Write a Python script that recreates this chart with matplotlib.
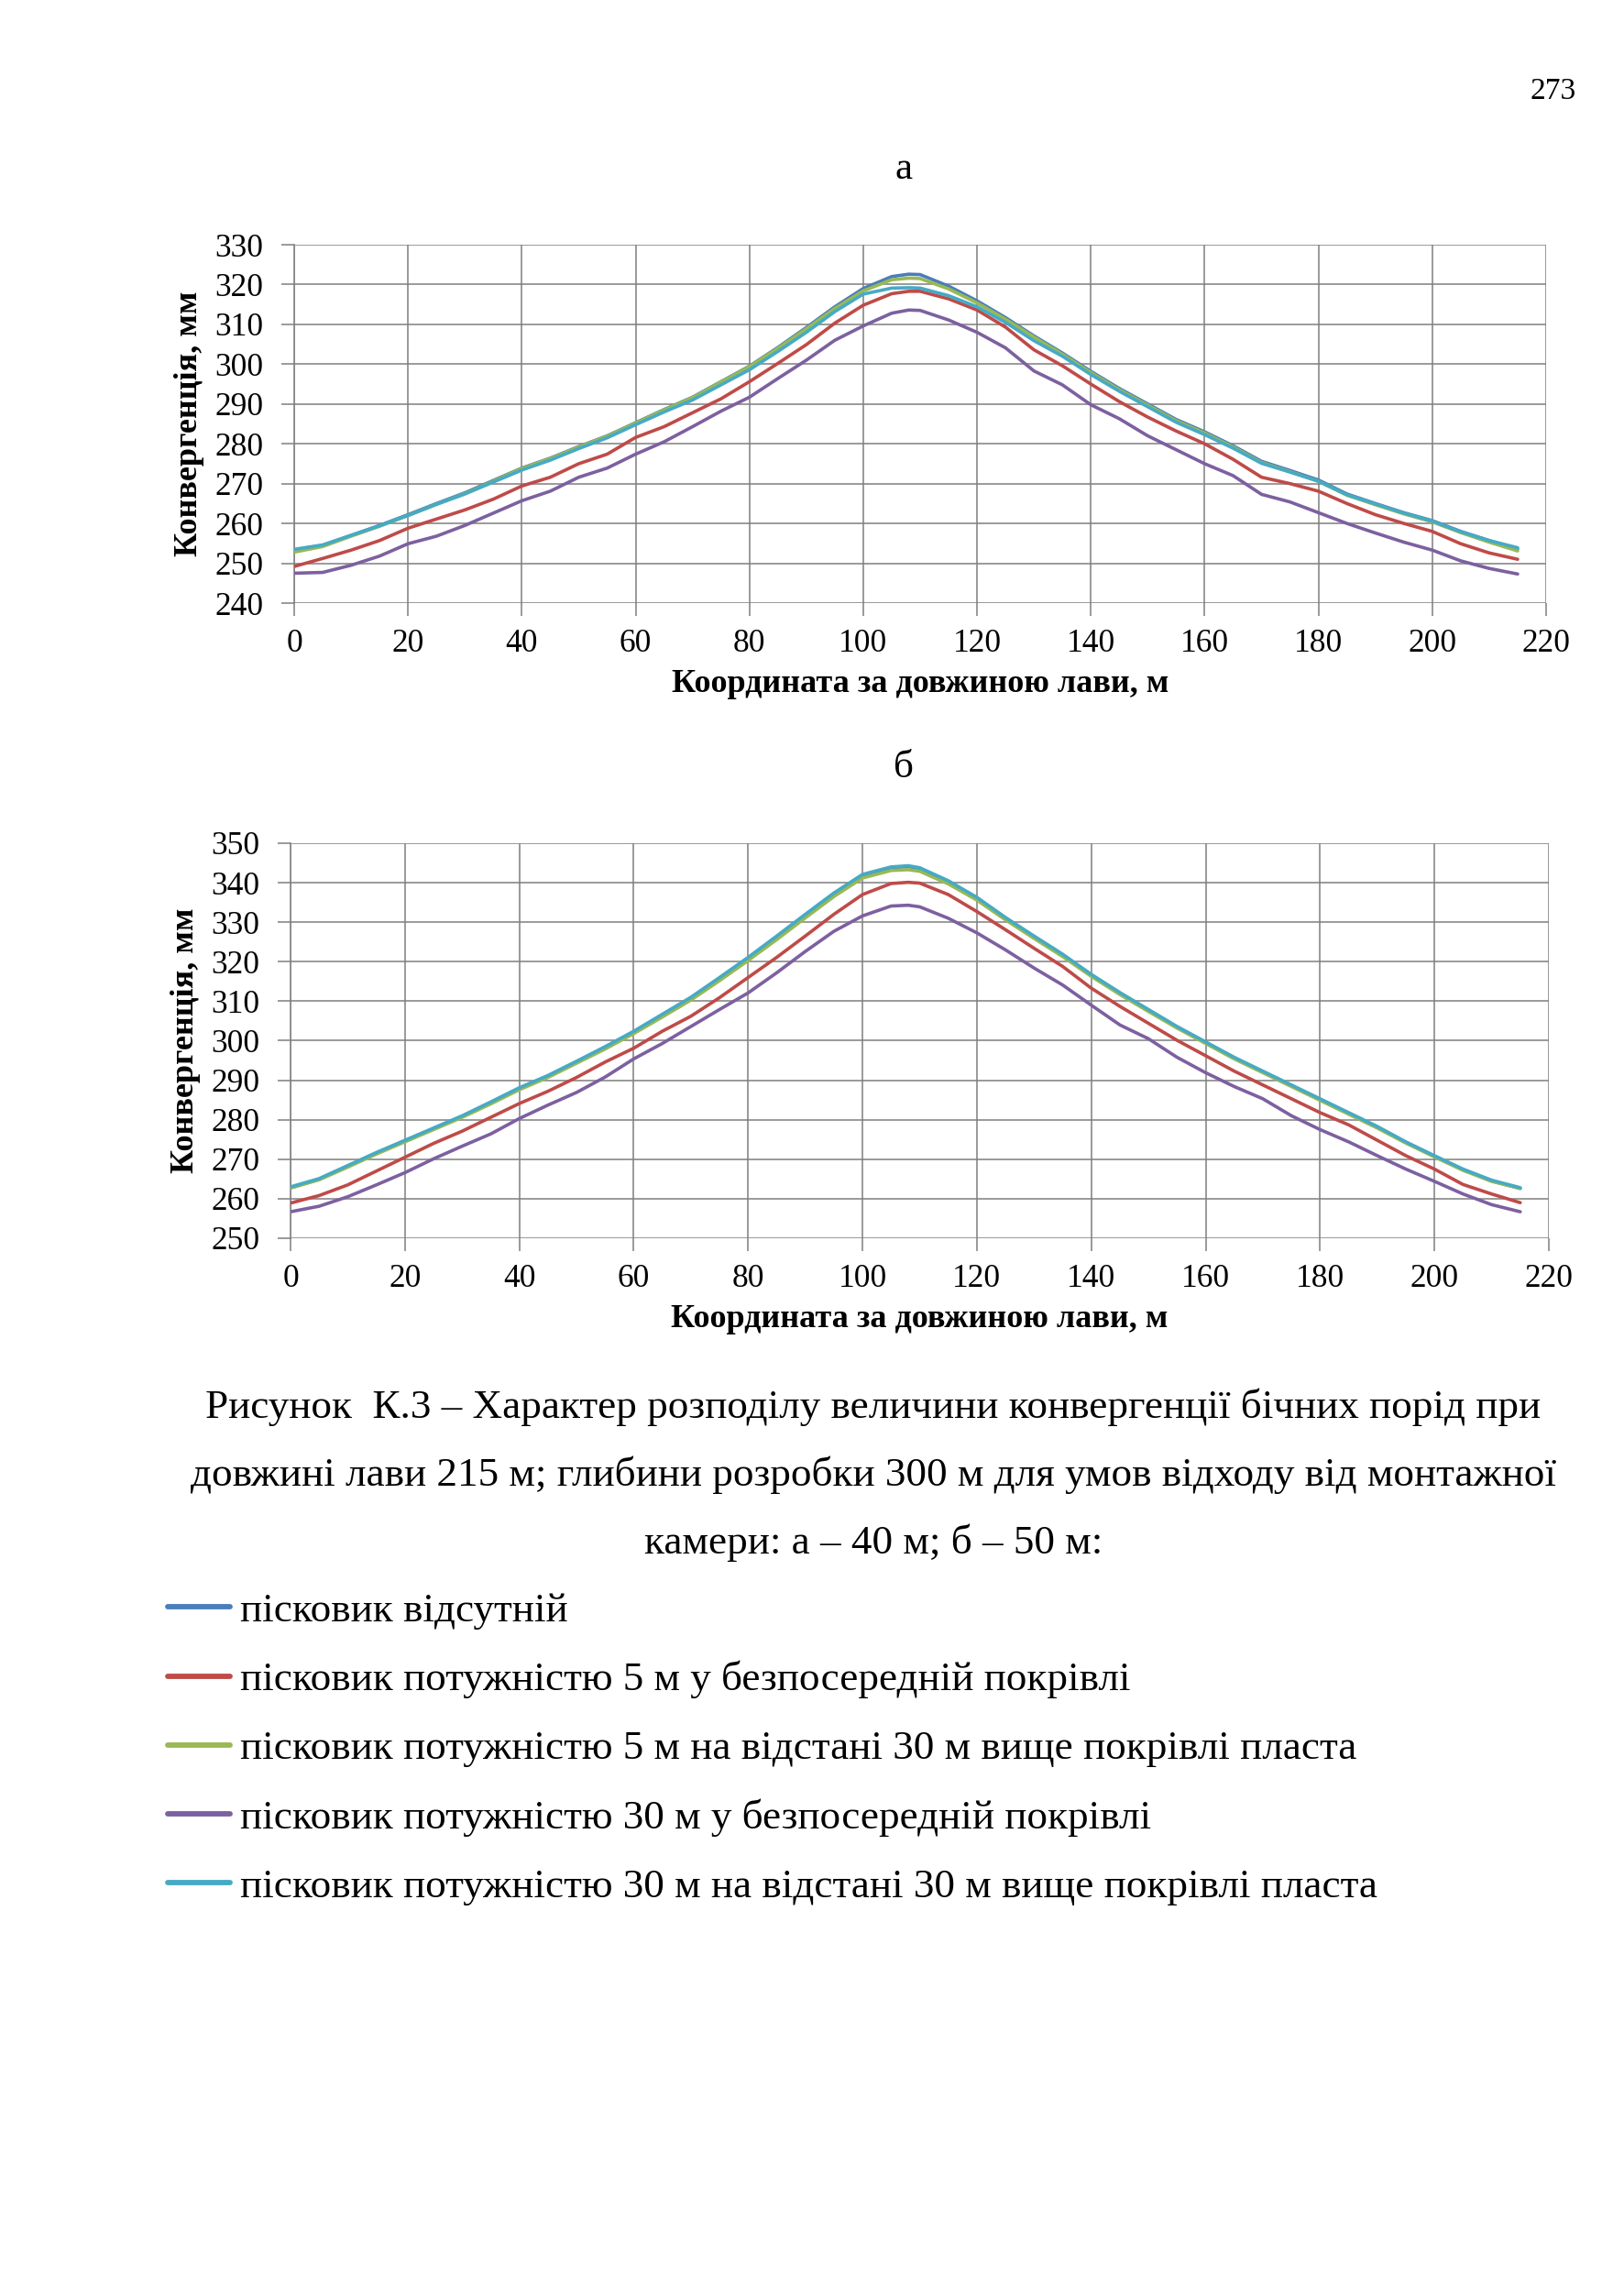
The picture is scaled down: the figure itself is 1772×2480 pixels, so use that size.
import matplotlib
matplotlib.use("Agg")
import matplotlib.pyplot as plt

plt.rcParams['font.family'] = ['Liberation Serif', 'DejaVu Serif']

# координати вздовж лави, м
x = [0, 5, 10, 15, 20, 25, 30, 35, 40, 45, 50, 55, 60, 65, 70, 75, 80, 85, 90, 95,
     100, 105, 108, 110, 115, 120, 125, 130, 135, 140, 145, 150, 155, 160, 165, 170,
     175, 180, 185, 190, 195, 200, 205, 210, 215]

# а - відхід 40 м
a_blue = [253.3, 254.5, 257.0, 259.5, 262.2, 265.0, 267.7, 270.8, 273.9, 276.4, 279.3, 282.0,
          285.3, 288.6, 291.7, 295.6, 299.5, 304.2, 309.2, 314.4, 319.0, 322.0, 322.6, 322.5,
          319.6, 315.9, 311.7, 307.1, 302.8, 298.2, 293.9, 290.0, 286.1, 283.0, 279.5, 275.6,
          273.3, 270.9, 267.4, 265.0, 262.7, 260.7, 258.0, 255.7, 253.6]
a_red = [249.2, 251.2, 253.3, 255.7, 258.8, 261.1, 263.4, 266.1, 269.4, 271.6, 275.0, 277.4,
         281.6, 284.3, 287.8, 291.3, 295.6, 300.2, 304.9, 310.3, 314.8, 317.7, 318.3, 318.3,
         316.4, 313.6, 309.3, 303.6, 299.6, 295.0, 290.6, 286.7, 283.2, 280.0, 276.1, 271.6,
         270.0, 268.1, 265.0, 262.2, 260.0, 258.0, 254.9, 252.6, 251.0]
a_green = [252.8, 254.2, 256.8, 259.3, 262.0, 264.8, 267.5, 270.6, 273.8, 276.3, 279.2, 281.9,
           285.2, 288.5, 291.6, 295.5, 299.4, 304.0, 308.9, 314.0, 318.4, 321.2, 321.6, 321.5,
           318.9, 315.4, 311.3, 306.8, 302.5, 297.9, 293.6, 289.7, 285.8, 282.7, 279.2, 275.3,
           273.0, 270.6, 267.1, 264.7, 262.4, 260.4, 257.7, 255.3, 253.1]
a_purple = [247.5, 247.7, 249.5, 251.8, 254.9, 256.8, 259.5, 262.6, 265.7, 268.1, 271.6, 273.9,
            277.4, 280.5, 284.3, 288.2, 291.7, 296.4, 301.0, 306.0, 309.6, 312.8, 313.6, 313.5,
            311.1, 308.0, 304.1, 298.3, 294.8, 289.8, 286.3, 282.0, 278.5, 275.0, 272.0, 267.3,
            265.4, 262.7, 260.0, 257.6, 255.3, 253.3, 250.6, 248.7, 247.3]
a_cyan = [253.5, 254.6, 257.0, 259.4, 262.0, 264.8, 267.4, 270.4, 273.4, 275.9, 278.8, 281.5,
          284.8, 288.0, 291.0, 294.8, 298.6, 303.2, 308.0, 313.2, 317.6, 319.1, 319.2, 319.1,
          317.2, 314.4, 310.5, 305.9, 302.0, 297.4, 293.2, 289.3, 285.4, 282.3, 278.9, 275.1,
          272.9, 270.6, 267.2, 264.9, 262.6, 260.6, 257.9, 255.7, 253.9]

# б - відхід 50 м
b_blue = [262.8, 264.9, 268.2, 271.5, 274.6, 277.7, 280.8, 284.3, 287.9, 291.0, 294.6, 298.3,
          302.2, 306.5, 310.8, 315.8, 320.9, 326.3, 331.8, 337.2, 341.9, 343.8, 344.1, 343.6,
          340.3, 336.1, 331.0, 326.3, 321.7, 316.6, 312.0, 307.7, 303.4, 299.5, 295.6, 292.1,
          288.6, 285.1, 281.6, 278.1, 274.2, 270.7, 267.3, 264.5, 262.6]
b_red = [258.9, 260.8, 263.5, 267.0, 270.5, 274.0, 277.1, 280.6, 284.1, 287.2, 290.7, 294.6,
         298.1, 302.4, 306.2, 310.9, 316.0, 321.1, 326.5, 332.0, 337.0, 339.8, 340.1, 339.9,
         337.0, 332.7, 328.1, 323.4, 318.8, 313.3, 308.7, 304.4, 300.1, 296.2, 292.3, 288.8,
         285.3, 281.8, 278.7, 274.8, 270.9, 267.5, 263.6, 261.2, 259.0]
b_green = [262.7, 264.8, 268.0, 271.3, 274.4, 277.5, 280.6, 284.0, 287.6, 290.7, 294.3, 297.9,
           301.8, 306.0, 310.3, 315.2, 320.3, 325.6, 331.1, 336.5, 341.2, 343.1, 343.3, 342.9,
           339.7, 335.6, 330.6, 325.9, 321.3, 316.3, 311.7, 307.4, 303.2, 299.3, 295.4, 291.9,
           288.4, 284.9, 281.4, 277.9, 274.1, 270.6, 267.2, 264.4, 262.6]
b_purple = [256.7, 258.1, 260.5, 263.5, 266.6, 270.1, 273.3, 276.4, 280.3, 283.7, 286.9, 290.8,
            295.4, 299.3, 303.6, 307.9, 312.1, 317.2, 322.6, 327.7, 331.6, 334.1, 334.3, 333.9,
            331.0, 327.3, 323.0, 318.4, 314.1, 309.0, 304.0, 300.5, 295.8, 291.9, 288.4, 285.3,
            281.0, 277.5, 274.4, 270.9, 267.5, 264.4, 261.2, 258.5, 256.7]
b_cyan = [263.0, 265.1, 268.4, 271.7, 274.8, 277.9, 281.0, 284.5, 288.1, 291.2, 294.8, 298.5,
          302.4, 306.7, 311.0, 316.0, 321.1, 326.5, 332.0, 337.4, 342.1, 344.0, 344.3, 343.8,
          340.5, 336.3, 331.2, 326.5, 321.9, 316.8, 312.2, 307.9, 303.6, 299.7, 295.8, 292.3,
          288.8, 285.3, 281.8, 278.3, 274.4, 270.9, 267.5, 264.7, 262.8]

labels = [
    'пісковик відсутній',
    'пісковик потужністю 5 м у безпосередній покрівлі',
    'пісковик потужністю 5 м на відстані 30 м вище покрівлі пласта',
    'пісковик потужністю 30 м у безпосередній покрівлі',
    'пісковик потужністю 30 м на відстані 30 м вище покрівлі пласта',
]
colors = ['#4A7EBB', '#BE4B48', '#98B954', '#7D60A0', '#46AAC5']

x_ticks = list(range(0, 221, 20))
a_yticks = list(range(240, 331, 10))
b_yticks = list(range(250, 351, 10))

W, H = 1772, 2480
fig = plt.figure(figsize=(W / 100, H / 100), dpi=100, facecolor='white')


def px(x0, y0):
    # пікселі сторінки -> частки фігури
    return x0 / W, 1 - y0 / H


def make_axes(rect, series, yticks):
    ax = fig.add_axes(rect)
    lines = []
    for ys, c in zip(series, colors):
        ln, = ax.plot(x, ys, color=c, lw=2.6, solid_capstyle='round',
                      solid_joinstyle='round', zorder=3)
        lines.append(ln)
    ax.set_xlim(0, 220)
    ax.set_ylim(yticks[0], yticks[-1])
    ax.set_xticks(x_ticks)
    ax.set_yticks(yticks)
    ax.grid(True, color='#7f7f7f', lw=1.1)
    for s in ax.spines.values():
        s.set_visible(False)
    ax.spines['left'].set_visible(True)
    ax.spines['left'].set_color('#7f7f7f')
    ax.spines['left'].set_linewidth(1.1)
    ax.tick_params(axis='both', colors='#7f7f7f', labelcolor='black',
                   labelsize=25.5, length=10, width=1.1, direction='out')
    ax.tick_params(axis='y', pad=14)
    ax.tick_params(axis='x', pad=10)
    ax.set_axisbelow(True)
    ax.set_xlabel('Координата за довжиною лави, м', fontsize=26,
                  fontweight='bold', labelpad=8)
    ax.set_ylabel('Конвергенція, мм', fontsize=26, fontweight='bold', labelpad=8)
    return ax, lines


# графік а
l, t = px(321, 267)
_, b = px(0, 658)
ax_a, lines_a = make_axes([l, b, (1687 - 321) / W, t - b],
                          [a_blue, a_red, a_green, a_purple, a_cyan], a_yticks)

# графік б
l, t = px(317, 920)
_, b = px(0, 1351)
ax_b, lines_b = make_axes([l, b, (1690 - 317) / W, t - b],
                          [b_blue, b_red, b_green, b_purple, b_cyan], b_yticks)

# номер сторінки та підписи
fig.text(*px(1720, 100), '273', fontsize=24, ha='right', va='center')
fig.text(*px(986, 185), 'а', fontsize=31, ha='center', va='center')
fig.text(*px(986, 838), 'б', fontsize=31, ha='center', va='center')

caption = [
    'Рисунок  К.3 – Характер розподілу величини конвергенції бічних порід при',
    'довжині лави 215 м; глибини розробки 300 м для умов відходу від монтажної',
    'камери: а – 40 м; б – 50 м:',
]
for i, line in enumerate(caption):
    fig.text(*px(953, 1535 + i * 74), line, fontsize=32.5, ha='center', va='center')

leg = fig.legend(lines_a, labels, loc='upper left', bbox_to_anchor=px(183, 1737),
                 frameon=False, fontsize=32.5, handlelength=1.5, handletextpad=0.25,
                 labelspacing=0.76, borderpad=0, borderaxespad=0)
for h in leg.legend_handles:
    h.set_linewidth(4.2)

fig.savefig('out.png', dpi=100, facecolor='white')
